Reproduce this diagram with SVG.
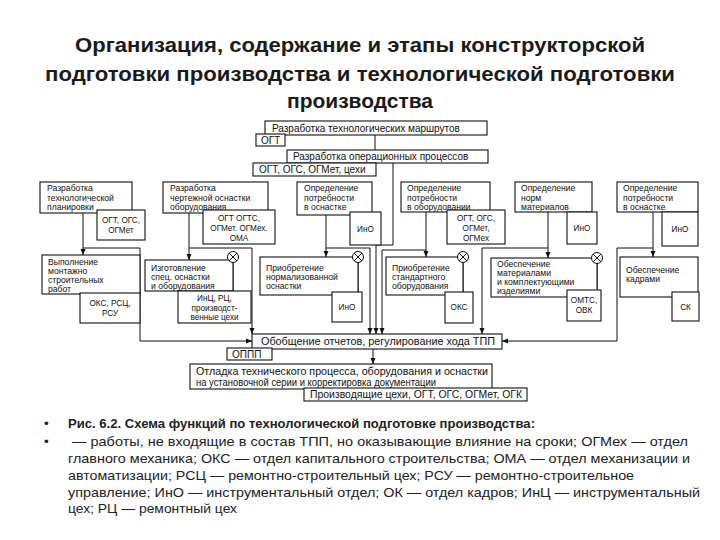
<svg xmlns="http://www.w3.org/2000/svg" xmlns:xlink="http://www.w3.org/1999/xlink" width="720" height="540" viewBox="0 0 720 540">
<style>
.b{fill:#fff;stroke:#111;stroke-width:1.1}
.t{font-family:"Liberation Sans",Arial,sans-serif;font-size:10px;fill:#111}
.m{font-family:"Liberation Sans",Arial,sans-serif;font-size:8.6px;fill:#111}
.s{font-family:"Liberation Sans",Arial,sans-serif;font-size:8.2px;fill:#111;text-anchor:middle}
.c{fill:none;stroke:#111;stroke-width:1}
.ti{font-family:"Liberation Sans",Arial,sans-serif;font-size:21px;font-weight:bold;fill:#1a1a1a;text-anchor:middle}
.n{font-family:"Liberation Sans",Arial,sans-serif;font-size:13.5px;fill:#222}
</style>
<defs>
<marker id="ah" markerWidth="6" markerHeight="6" refX="6" refY="3" orient="auto" markerUnits="userSpaceOnUse"><path d="M0,0.5L6,3L0,5.5z" fill="#111"/></marker>
<g id="ox"><circle r="5.5" fill="#fff" stroke="#111" stroke-width="1"/><path d="M-3.9,-3.9L3.9,3.9M-3.9,3.9L3.9,-3.9" stroke="#111" stroke-width="1"/></g>
</defs>
<rect width="720" height="540" fill="#fff"/>
<g id="title">
<text class="ti" x="360" y="52" textLength="570" lengthAdjust="spacingAndGlyphs">Организация, содержание и этапы конструкторской</text>
<text class="ti" x="360" y="81" textLength="630" lengthAdjust="spacingAndGlyphs">подготовки производства и технологической подготовки</text>
<text class="ti" x="360" y="108" textLength="146" lengthAdjust="spacingAndGlyphs">производства</text>
</g>
<g id="connectors">
<path class="c" d="M375,135V150"/>
<path class="c" d="M393,163V245H376V334" marker-end="url(#ah)"/>
<path class="c" d="M83,213V255" marker-end="url(#ah)"/>
<path class="c" d="M189,213V260" marker-end="url(#ah)"/>
<path class="c" d="M326,215V257" marker-end="url(#ah)"/>
<path class="c" d="M426,212V257" marker-end="url(#ah)"/>
<path class="c" d="M548,212V258" marker-end="url(#ah)"/>
<path class="c" d="M653,212V257" marker-end="url(#ah)"/>
<path class="c" d="M83,248H140V341H252" marker-end="url(#ah)"/>
<path class="c" d="M189,248H252V334" marker-end="url(#ah)"/>
<path class="c" d="M326,248H370V334" marker-end="url(#ah)"/>
<path class="c" d="M426,250H382V334" marker-end="url(#ah)"/>
<path class="c" d="M548,248H482V334" marker-end="url(#ah)"/>
<path class="c" d="M653,248H617V341H502" marker-end="url(#ah)"/>
<path class="c" d="M233,262V291M358,262V292M463,262V292M597,263V290"/>
<path class="c" d="M373,349V364" marker-end="url(#ah)"/>
</g>
<g id="n-routes"><rect class="b" x="265" y="121" width="222" height="14"/><text class="t" x="272" y="132">Разработка технологических маршрутов</text></g>
<g id="n-ogt"><rect class="b" x="256" y="134" width="29" height="12"/><text class="t" x="261" y="144">ОГТ</text></g>
<g id="n-oper"><rect class="b" x="287" y="150" width="201" height="13"/><text class="t" x="293" y="160">Разработка операционных процессов</text></g>
<g id="n-oper-r"><rect class="b" x="253" y="163" width="123" height="13"/><text class="t" x="259" y="173">ОГТ, ОГС, ОГМет, цехи</text></g>

<g id="n-r1c1"><rect class="b" x="40" y="182" width="92" height="31"/><text class="m" x="47" y="191">Разработка</text><text class="m" x="47" y="200.5">технологической</text><text class="m" x="47" y="210">планировки</text></g>
<g id="n-r1c1s"><rect class="b" x="97" y="210" width="48" height="30"/><text class="s" x="121" y="223">ОГТ, ОГС,</text><text class="s" x="121" y="233">ОГМет</text></g>
<g id="n-r1c2"><rect class="b" x="163" y="182" width="105" height="31"/><text class="m" x="170" y="191">Разработка</text><text class="m" x="170" y="200.5">чертежной оснастки</text><text class="m" x="170" y="210">оборудования</text></g>
<g id="n-r1c2s"><rect class="b" x="203" y="210" width="72" height="34"/><text class="s" x="239" y="221">ОГТ ОГТС,</text><text class="s" x="239" y="231">ОГМет. ОГМех.</text><text class="s" x="239" y="241">ОМА</text></g>
<g id="n-r1c3"><rect class="b" x="297" y="182" width="75" height="33"/><text class="m" x="304" y="191">Определение</text><text class="m" x="304" y="200.5">потребности</text><text class="m" x="304" y="210">в оснастке</text></g>
<g id="n-r1c3s"><rect class="b" x="350" y="212" width="31" height="33"/><text class="s" x="365.5" y="232">ИнО</text></g>
<g id="n-r1c4"><rect class="b" x="401" y="182" width="89" height="30"/><text class="m" x="407" y="191">Определение</text><text class="m" x="407" y="200.5">потребности</text><text class="m" x="407" y="210">в оборудовании</text></g>
<g id="n-r1c4s"><rect class="b" x="447" y="210" width="58" height="34"/><text class="s" x="476" y="221">ОГТ, ОГС,</text><text class="s" x="476" y="231">ОГМет,</text><text class="s" x="476" y="241">ОГМех</text></g>
<g id="n-r1c5"><rect class="b" x="515" y="182" width="77" height="30"/><text class="m" x="521" y="191">Определение</text><text class="m" x="521" y="200.5">норм</text><text class="m" x="521" y="210">материалов</text></g>
<g id="n-r1c5s"><rect class="b" x="567" y="212" width="30" height="32"/><text class="s" x="582" y="231">ИнО</text></g>
<g id="n-r1c6"><rect class="b" x="617" y="182" width="81" height="30"/><text class="m" x="623" y="191">Определение</text><text class="m" x="623" y="200.5">потребности</text><text class="m" x="623" y="210">в оснастке</text></g>
<g id="n-r1c6s"><rect class="b" x="662" y="212" width="36" height="34"/><text class="s" x="680" y="232">ИнО</text></g>

<g id="n-r2c1"><rect class="b" x="42" y="255" width="98" height="39"/><text class="m" x="48" y="264.5">Выполнение</text><text class="m" x="48" y="273.5">монтажно</text><text class="m" x="48" y="282.5">строительных</text><text class="m" x="48" y="291.5">работ</text></g>
<g id="n-r2c1s"><rect class="b" x="80" y="293" width="60" height="30"/><text class="s" x="110" y="306">ОКС, РСЦ,</text><text class="s" x="110" y="316">РСУ</text></g>
<g id="n-r2c2"><rect class="b" x="145" y="260" width="88" height="31"/><text class="m" x="151" y="270.5">Изготовление</text><text class="m" x="151" y="279.5">спец. оснастки</text><text class="m" x="151" y="288.5">и оборудования</text></g>
<g id="n-r2c2s"><rect class="b" x="178" y="291" width="73" height="32"/><text class="s" x="214.5" y="301">ИнЦ, РЦ,</text><text class="s" x="214.5" y="310.5">производст-</text><text class="s" x="214.5" y="320">венные цехи</text></g>
<use xlink:href="#ox" x="233" y="257"/>
<g id="n-r2c3"><rect class="b" x="260" y="257" width="98" height="38"/><text class="m" x="266" y="271">Приобретение</text><text class="m" x="266" y="280">нормализованной</text><text class="m" x="266" y="289">оснастки</text></g>
<g id="n-r2c3s"><rect class="b" x="332" y="292" width="30" height="30"/><text class="s" x="347" y="310">ИнО</text></g>
<use xlink:href="#ox" x="358" y="257"/>
<g id="n-r2c4"><rect class="b" x="386" y="257" width="77" height="38"/><text class="m" x="392" y="271">Приобретение</text><text class="m" x="392" y="280">стандартного</text><text class="m" x="392" y="289">оборудования</text></g>
<g id="n-r2c4s"><rect class="b" x="445" y="292" width="28" height="31"/><text class="s" x="459" y="310">ОКС</text></g>
<use xlink:href="#ox" x="463" y="257"/>
<g id="n-r2c5"><rect class="b" x="491" y="258" width="106" height="39"/><text class="m" x="497" y="267">Обеспечение</text><text class="m" x="497" y="276">материалами</text><text class="m" x="497" y="285">и комплектующими</text><text class="m" x="497" y="294">изделиями</text></g>
<g id="n-r2c5s"><rect class="b" x="567" y="290" width="34" height="31"/><text class="s" x="584" y="303">ОМТС,</text><text class="s" x="584" y="313">ОВК</text></g>
<use xlink:href="#ox" x="597" y="258"/>
<g id="n-r2c6"><rect class="b" x="620" y="257" width="78" height="40"/><text class="m" x="626" y="273">Обеспечение</text><text class="m" x="626" y="282">кадрами</text></g>
<g id="n-r2c6s"><rect class="b" x="672" y="292" width="27" height="29"/><text class="s" x="685.5" y="310">СК</text></g>

<g id="n-summary"><rect class="b" x="252" y="334" width="250" height="15"/><text class="t" x="261" y="345" textLength="234" lengthAdjust="spacingAndGlyphs">Обобщение отчетов, регулирование хода ТПП</text></g>
<g id="n-oppp"><rect class="b" x="227" y="348" width="45" height="12"/><text class="t" x="232" y="358">ОППП</text></g>
<g id="n-debug"><rect class="b" x="190" y="364" width="302" height="25"/><text class="t" x="196" y="375" textLength="292" lengthAdjust="spacingAndGlyphs">Отладка технического процесса, оборудования и оснастки</text><text class="t" x="196" y="386" textLength="240" lengthAdjust="spacingAndGlyphs">на установочной серии и корректировка документации</text></g>
<g id="n-shops"><rect class="b" x="304" y="388" width="223" height="13"/><text class="t" x="310" y="398" textLength="212" lengthAdjust="spacingAndGlyphs">Производящие цехи, ОГТ, ОГС, ОГМет, ОГК</text></g>

<g id="notes">
<text class="n" x="44" y="428">•</text>
<text class="n" x="44" y="446">•</text>
<text class="n" x="68" y="428" font-weight="bold" textLength="467" lengthAdjust="spacingAndGlyphs">Рис. 6.2. Схема функций по технологической подготовке производства:</text>
<text class="n" x="72" y="446" textLength="616" lengthAdjust="spacingAndGlyphs">— работы, не входящие в состав ТПП, но оказывающие влияние на сроки; ОГМех — отдел</text>
<text class="n" x="68" y="463" textLength="622" lengthAdjust="spacingAndGlyphs">главного механика; ОКС — отдел капитального строительства; ОМА — отдел механизации и</text>
<text class="n" x="68" y="480" textLength="566" lengthAdjust="spacingAndGlyphs">автоматизации; РСЦ — ремонтно-строительный цех; РСУ — ремонтно-строительное</text>
<text class="n" x="68" y="497" textLength="632" lengthAdjust="spacingAndGlyphs">управление; ИнО — инструментальный отдел; ОК — отдел кадров; ИнЦ — инструментальный</text>
<text class="n" x="68" y="513" textLength="169" lengthAdjust="spacingAndGlyphs">цех; РЦ — ремонтный цех</text>
</g>
</svg>
